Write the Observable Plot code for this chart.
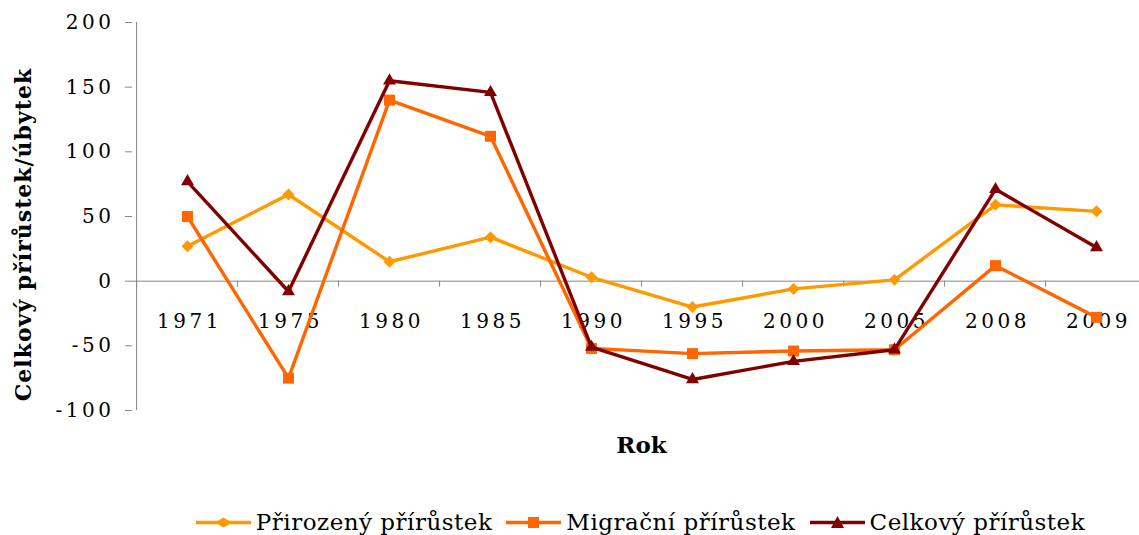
<!DOCTYPE html>
<html>
<head>
<meta charset="utf-8">
<script src="https://cdn.jsdelivr.net/npm/d3@7"></script>
<script src="https://cdn.jsdelivr.net/npm/@observablehq/plot@0.6"></script>
<style>
  html, body { margin: 0; padding: 0; background: #fff; overflow: hidden; }
  #wrap { position: relative; width: 1139px; height: 535px; }
  svg { color: #000; }
  g[aria-label="y-axis tick label"] { letter-spacing: 3.5px; }
  #legend { position: absolute; left: 0; top: 507px; width: 1281px; height: 30px;
    display: flex; justify-content: center; align-items: center;
    font-family: "DejaVu Serif", serif; font-size: 23px; letter-spacing: 0.5px; color: #000; }
  #legend .item { display: flex; align-items: center; margin: 0 7px; }
  #legend svg { margin-right: 5px; }
</style>
</head>
<body>
<div id="wrap"><div id="chart"></div><div id="legend"></div></div>
<script>
const years = ["1971","1975","1980","1985","1990","1995","2000","2005","2008","2009"];
const prirozeny = [27, 67, 15, 34, 3, -20, -6, 1, 59, 54];
const migracni = [50, -75, 140, 112, -52, -56, -54, -53, 12, -28];
const celkovy = [77, -8, 155, 146, -51, -76, -62, -53, 71, 26];
const yTicks = [-100, -50, 0, 50, 100, 150, 200];
const seriesNames = ["Přirozený přírůstek", "Migrační přírůstek", "Celkový přírůstek"];
const colors = ["#FF9900", "#FF6600", "#800000"];
const symbols = ["diamond2", "square", "triangle"];
const radii = [5.4, 6.2, 4.8];
const yTitle = "Celkový přírůstek/úbytek";
const xTitle = "Rok";

const seriesValues = [prirozeny, migracni, celkovy];
const rows = seriesNames.flatMap((name, s) =>
  years.map((year, i) => ({series: name, year, value: seriesValues[s][i]})));

const W = 1139, ML = 132, MR = -11;
const step = (W - MR - ML) / years.length;
const gray = "#868686";
const serif = "DejaVu Serif";

const marks = [
  Plot.ruleY([0], {stroke: gray, strokeWidth: 1}),
  Plot.ruleX(years, {x: d => d, dx: -step / 2, y1: 0, y2: -4.6, stroke: gray}),
  Plot.ruleX([years[0]], {x: d => d, dx: -step / 2, y1: -100, y2: 200, stroke: gray}),
  Plot.axisY({ticks: yTicks, tickSize: 7, tickPadding: 11, stroke: gray, fill: "#000",
    fontSize: 20, fontFamily: serif, label: null, tickFormat: d => String(d)}),
  Plot.text(years, {x: d => d, y: 0, dy: 40, dx: 2, text: d => d, fontSize: 20,
    fontFamily: serif, fill: "#000"}),
  Plot.text([yTitle], {frameAnchor: "left", textAnchor: "middle", rotate: -90, dx: -109, dy: 18,
    fontSize: 22, fontWeight: "bold", fontFamily: serif, fill: "#000"}),
  Plot.text([xTitle], {frameAnchor: "bottom", dy: 42, fontSize: 23,
    fontWeight: "bold", fontFamily: serif, fill: "#000"})
];
seriesNames.forEach((name, s) => {
  const data = rows.filter(r => r.series === name);
  marks.push(Plot.line(data, {x: "year", y: "value", stroke: colors[s], strokeWidth: 3.4}));
  marks.push(Plot.dot(data, {x: "year", y: "value", fill: colors[s], stroke: "none",
    symbol: () => symbols[s], r: radii[s]}));
});

const chart = Plot.plot({
  width: W, height: 480,
  marginLeft: ML, marginRight: MR, marginTop: 22, marginBottom: 70,
  x: {type: "point", domain: years, padding: 0.5, axis: null},
  y: {domain: [-100, 200], axis: null},
  symbol: {type: "identity"},
  style: {background: "transparent", fontFamily: serif, overflow: "hidden"},
  marks
});
document.getElementById("chart").appendChild(chart);
// letter spacing for the year labels and the y title
const textGroups = chart.querySelectorAll('g[aria-label="text"]');
if (textGroups[0]) textGroups[0].style.letterSpacing = "3.5px";
if (textGroups[1]) textGroups[1].style.letterSpacing = "1px";

const legend = document.getElementById("legend");
const shapePaths = [
  "M27.5,10.5 L36,15.5 L27.5,20.5 L19,15.5 Z",
  "M22,10 H33 V21 H22 Z",
  "M27.5,9 L34,21 L21,21 Z"
];
seriesNames.forEach((name, s) => {
  const item = document.createElement("div");
  item.className = "item";
  item.innerHTML = `<svg width="55" height="30" viewBox="0 0 55 30">
    <line x1="0" x2="55" y1="15.5" y2="15.5" stroke="${colors[s]}" stroke-width="3.4"/>
    <path d="${shapePaths[s]}" fill="${colors[s]}"/></svg><span>${name}</span>`;
  legend.appendChild(item);
});
</script>
</body>
</html>
